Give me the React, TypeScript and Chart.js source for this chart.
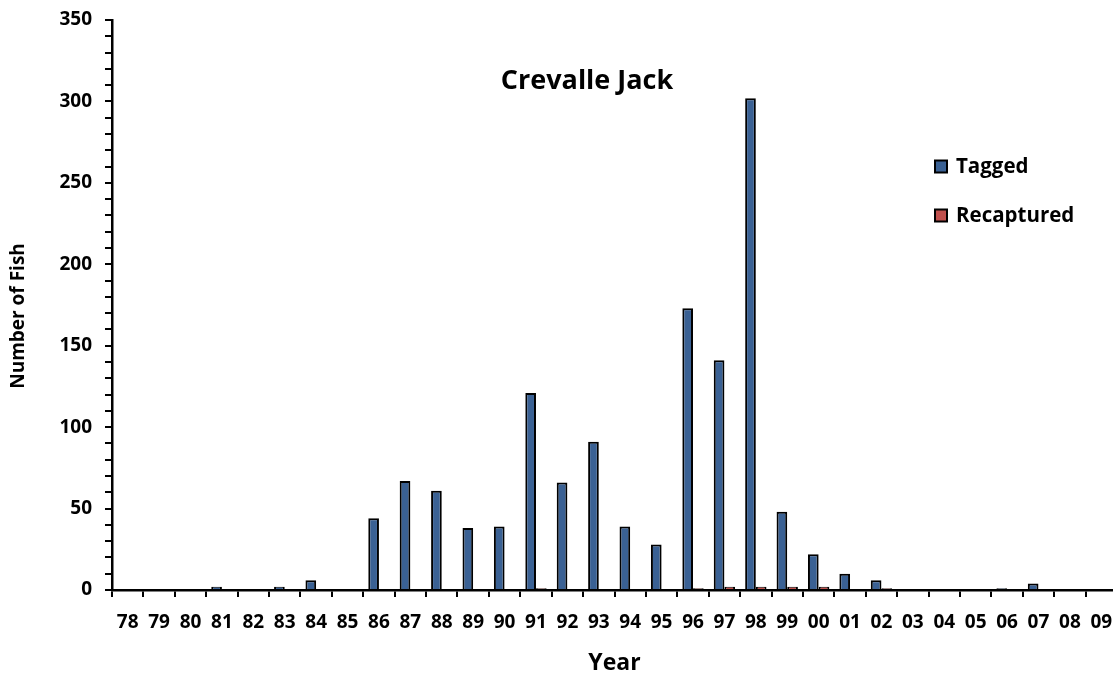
import React, { useEffect, useRef } from "react";
import { Chart, registerables } from "chart.js";

Chart.register(...registerables);

const years = ["78","79","80","81","82","83","84","85","86","87","88","89","90","91","92","93","94","95","96","97","98","99","00","01","02","03","04","05","06","07","08","09"];
const tagged = [0,0,0,2,0,2,6,0,44,67,61,38,39,121,66,91,39,28,173,141,302,48,22,10,6,0,0,0,1,4,0,0];
const recaptured = [0,0,0,0,0,0,0,0,0,0,0,0,0,1,0,0,0,0,1,2,2,2,2,0,1,0,0,0,0,0,0,0];
const chartTitle = "Crevalle Jack";
const yTitle = "Number of Fish";
const xTitle = "Year";
const seriesNames = ["Tagged", "Recaptured"];
const colors = ["#3A6194", "#C0504D"];

const overlayPlugin = {
  id: "overlay",
  afterDraw(chart: any) {
    const ctx = chart.ctx;
    ctx.save();
    ctx.fillStyle = "#000";
    ctx.font = "bold 27px 'Open Sans'";
    ctx.textAlign = "center";
    ctx.textBaseline = "middle";
    ctx.fillText(chartTitle, 587, 81);
    ctx.save();
    ctx.translate(19, 316);
    ctx.rotate(-Math.PI / 2);
    ctx.font = "bold 19px 'Open Sans'";
    ctx.fillText(yTitle, 0, 0);
    ctx.restore();
    ctx.font = "bold 20.5px 'Open Sans'";
    ctx.textAlign = "left";
    const ys = [166.5, 215.5];
    seriesNames.forEach((n, i) => {
      ctx.fillStyle = colors[i];
      ctx.fillRect(935, ys[i] - 6, 12, 12);
      ctx.strokeStyle = "#000";
      ctx.lineWidth = 2;
      ctx.strokeRect(935, ys[i] - 6, 12, 12);
      ctx.fillStyle = "#000";
      ctx.fillText(n, 956, ys[i] + 1);
    });
    ctx.restore();
  },
};

export default function App() {
  const ref = useRef<HTMLCanvasElement>(null);
  useEffect(() => {
    document.body.style.margin = "0";
    document.body.style.overflow = "hidden";
    const chart = new Chart(ref.current as HTMLCanvasElement, {
      type: "bar",
      data: {
        labels: years,
        datasets: [
          { label: seriesNames[0], data: tagged, backgroundColor: colors[0], borderColor: "#000", borderWidth: 2 },
          { label: seriesNames[1], data: recaptured, backgroundColor: colors[1], borderColor: "#000", borderWidth: 2 },
        ],
      },
      options: {
        animation: false,
        responsive: false,
        devicePixelRatio: 1,
        layout: { padding: { top: 20, left: 0, right: 0, bottom: 0 } },
        datasets: { bar: { categoryPercentage: 0.68, barPercentage: 1 } },
        plugins: { legend: { display: false }, tooltip: { enabled: false }, title: { display: false } },
        scales: {
          x: {
            grid: { display: true, drawOnChartArea: false, drawTicks: true, tickLength: 7, color: "#000", lineWidth: 2, offset: true },
            border: { display: true, color: "#000", width: 2.5 },
            ticks: { color: "#000", font: { family: "'Open Sans'", weight: "bold", size: 19 }, padding: 14, maxRotation: 0, autoSkip: false },
            title: { display: true, text: xTitle, color: "#000", font: { family: "'Open Sans'", weight: "bold", size: 23 }, padding: { top: 0, bottom: 2 } },
            afterFit: (s: any) => { s.height = 89; s.paddingLeft = 0; s.paddingRight = 0; },
          },
          y: {
            min: 0,
            max: 350,
            grid: { display: true, drawOnChartArea: false, drawTicks: true, tickLength: 7, color: "#000", lineWidth: 2 },
            border: { display: true, color: "#000", width: 2.5 },
            ticks: {
              stepSize: 10,
              autoSkip: false,
              color: "#000",
              padding: 13,
              font: { family: "'Open Sans'", weight: "bold", size: 19 },
              callback: (v: any) => (Number(v) % 50 === 0 ? String(v) : ""),
            },
            title: { display: false },
            afterFit: (s: any) => { s.width = 112; s.paddingTop = 0; s.paddingBottom = 0; },
          },
        },
      },
      plugins: [overlayPlugin],
    });
    return () => chart.destroy();
  }, []);
  return (
    <div style={{ position: "fixed", left: 0, top: 0, width: 1113, height: 679, overflow: "hidden", background: "#fff" }}>
      <canvas ref={ref} width={1117} height={679} style={{ width: 1117, height: 679, display: "block" }} />
    </div>
  );
}
